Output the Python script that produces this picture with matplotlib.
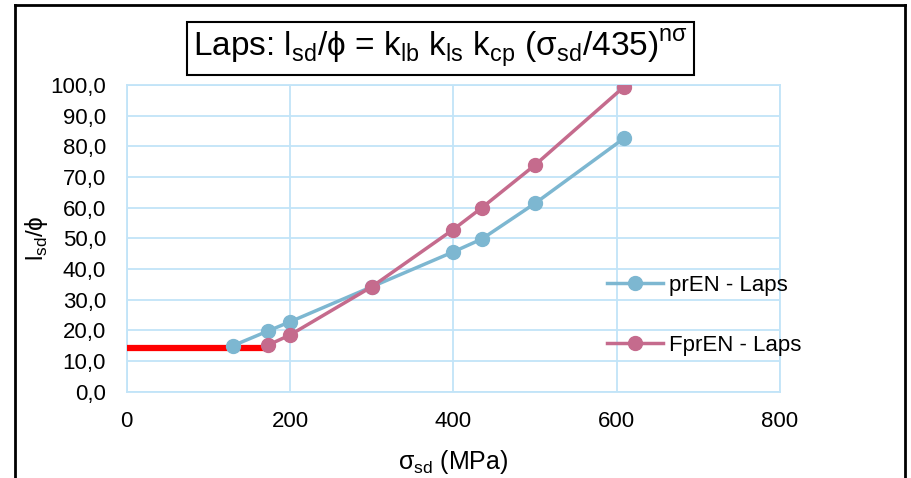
import numpy as np
import matplotlib.pyplot as plt
from matplotlib.lines import Line2D

plt.rcParams['font.family'] = ['Liberation Sans', 'DejaVu Sans']
plt.rcParams['mathtext.fontset'] = 'custom'
plt.rcParams['mathtext.rm'] = 'Liberation Sans'

# data
pren_x = [130, 173, 200, 300, 400, 435, 500, 609]
pren_y = [15.0, 19.8, 22.8, 34.2, 45.6, 49.8, 61.4, 82.6]
fpren_x = [173, 200, 300, 400, 435, 500, 609]
fpren_y = [15.2, 18.5, 34.2, 52.9, 60.0, 73.9, 99.4]
limit_x = [0, 179]
limit_y = [14.4, 14.4]

xticks = [0, 200, 400, 600, 800]
yticks = np.arange(0, 101, 10)

blue = '#7db7d1'
pink = '#c56b8d'
grid = '#c2e4f8'

fig = plt.figure(figsize=(9.12, 4.78), dpi=100)
ax = fig.add_axes([0.139, 0.1805, 0.716, 0.6415])

ax.plot(limit_x, limit_y, color='#ff0000', lw=4.5, solid_capstyle='butt', zorder=3)
ax.plot(pren_x, pren_y, color=blue, lw=2.5, marker='o', ms=10, label='prEN - Laps', zorder=4)
ax.plot(fpren_x, fpren_y, color=pink, lw=2.5, marker='o', ms=10, label='FprEN - Laps', zorder=4)

ax.set_xlim(0, 800)
ax.set_ylim(0, 100)
ax.set_xticks(xticks)
ax.set_xticklabels([str(v) for v in xticks])
ax.set_yticks(yticks)
ax.set_yticklabels([('%.1f' % v).replace('.', ',') for v in yticks])
ax.tick_params(length=0, labelsize=16)
ax.tick_params(axis='y', pad=15)
ax.tick_params(axis='x', pad=14)
ax.grid(True, color=grid, lw=1.3)
ax.set_axisbelow(True)
for s in ax.spines.values():
    s.set_color(grid)
    s.set_linewidth(1.3)

ax.set_xlabel('σ$_\\mathregular{sd}$ (MPa)', fontsize=18, va='center')
ax.set_ylabel('l$_\\mathregular{sd}$/ϕ', fontsize=17.5, va='center')
ax.xaxis.set_label_coords(0.5, -0.228)
ax.yaxis.set_label_coords(-0.138, 0.5)

ax.legend(loc='center left', bbox_to_anchor=(0.705, 0.25), frameon=False,
          fontsize=16, labelspacing=1.75, handlelength=2.5, handletextpad=0.3)

fig.text(0.483, 0.899, 'Laps: l$_\\mathregular{sd}$/ϕ = k$_\\mathregular{lb}$ k$_\\mathregular{ls}$ '
         'k$_\\mathregular{cp}$ (σ$_\\mathregular{sd}$/435)$^\\mathregular{nσ}$',
         ha='center', va='center', fontsize=24,
         bbox=dict(boxstyle='square,pad=0.18', fc='white', ec='black', lw=1.5))

# outer frame
for xs, ys in [([15/912, 905/912], [1-5/478, 1-5/478]),
               ([15/912, 15/912], [0, 1-5/478]),
               ([905/912, 905/912], [0, 1-5/478])]:
    fig.add_artist(Line2D(xs, ys, color='black', lw=2, transform=fig.transFigure))

fig.savefig('out.png', dpi=100)
